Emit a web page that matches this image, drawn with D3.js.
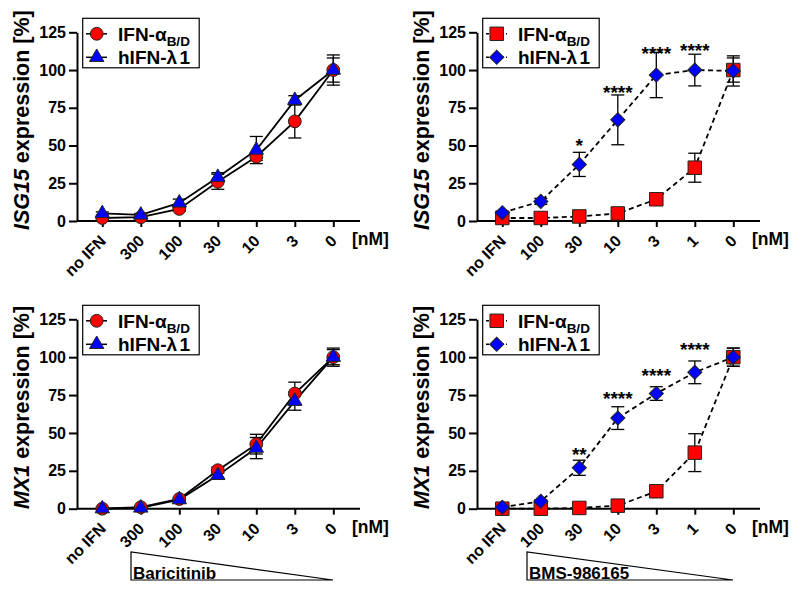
<!DOCTYPE html>
<html><head><meta charset="utf-8">
<script src="https://cdn.jsdelivr.net/npm/d3@7"></script>
<style>
body{margin:0;background:#fff}
svg{display:block}
text{font-family:"Liberation Sans",Arial,Helvetica,sans-serif;font-weight:bold;fill:#000}
</style>
</head><body>
<svg id="chart" width="800" height="589"></svg>
<script>
// ---- Data ----
const catsBaricitinib = ["no IFN", "300", "100", "30", "10", "3", "0"];
const catsBMS = ["no IFN", "100", "30", "10", "3", "1", "0"];
const yTicks = [0, 25, 50, 75, 100, 125];
const seriesNames = ["IFN-α", "hIFN-λ"];

// ISG15, Baricitinib
const isg15BariAlpha = [2, 2.5, 8, 26, 42.6, 66, 100];
const isg15BariAlphaErr = [1, 1, 1.5, 5, 2.5, 11, 10];
const isg15BariLambda = [5, 4, 12, 29, 47, 80, 100];
const isg15BariLambdaErr = [1, 1, 2.5, 3, 9, 3, 8];

// ISG15, BMS-986165
const isg15BmsAlpha = [2, 2, 3, 5, 14.4, 35.3, 100];
const isg15BmsAlphaErr = [1, 1, 1, 1.5, 2, 9.6, 8];
const isg15BmsLambda = [5.5, 13, 37.5, 67, 96.7, 100, 99.4];
const isg15BmsLambdaErr = [1, 2, 8, 16.5, 15, 10.5, 10];
const isg15BmsStars = ["", "", "*", "****", "****", "****", ""];
const isg15BmsStarLevel = [null, null, 54, 89.4, 115.5, 117, null];

// MX1, Baricitinib
const mx1BariAlpha = [0, 1, 6.4, 25.4, 42.6, 76, 100];
const mx1BariAlphaErr = [0.5, 0.5, 1, 2, 6.5, 7.5, 6];
const mx1BariLambda = [0, 0.5, 6, 22, 40, 71, 100];
const mx1BariLambdaErr = [0.5, 0.5, 1, 2, 7, 6, 5];

// MX1, BMS-986165
const mx1BmsAlpha = [0, 0, 0.5, 2, 11.5, 37, 100];
const mx1BmsAlphaErr = [0.5, 0.5, 0.5, 1, 1.5, 12.5, 6];
const mx1BmsLambda = [1, 4.9, 27, 59.8, 76, 90, 100];
const mx1BmsLambdaErr = [0.5, 1, 5, 7.5, 4.5, 7.5, 6];
const mx1BmsStars = ["", "", "**", "****", "****", "****", ""];
const mx1BmsStarLevel = [null, null, 40, 77.2, 92.2, 109.4, null];

// ---- Panels (layout) ----
const panels = [
  {left:77,  top:32.3,  bottom:221,   gene:"ISG15", cats:catsBaricitinib, a:isg15BariAlpha, ae:isg15BariAlphaErr, l:isg15BariLambda, le:isg15BariLambdaErr, dashed:false, inhibitor:null},
  {left:477, top:32.3,  bottom:221,   gene:"ISG15", cats:catsBMS, a:isg15BmsAlpha, ae:isg15BmsAlphaErr, l:isg15BmsLambda, le:isg15BmsLambdaErr, dashed:true, stars:isg15BmsStars, starLevel:isg15BmsStarLevel, inhibitor:null},
  {left:77,  top:319.3, bottom:508.7, gene:"MX1", cats:catsBaricitinib, a:mx1BariAlpha, ae:mx1BariAlphaErr, l:mx1BariLambda, le:mx1BariLambdaErr, dashed:false, inhibitor:"Baricitinib", inhX:54},
  {left:477, top:319.3, bottom:508.7, gene:"MX1", cats:catsBMS, a:mx1BmsAlpha, ae:mx1BmsAlphaErr, l:mx1BmsLambda, le:mx1BmsLambdaErr, dashed:true, stars:mx1BmsStars, starLevel:mx1BmsStarLevel, inhibitor:"BMS-986165", inhX:50}
];

const FONT = '"Liberation Sans",Arial,Helvetica,sans-serif';
const svg = d3.select("#chart");
svg.append("rect").attr("width",800).attr("height",589).attr("fill","#fff");

const RED = "#ff0000", BLUE = "#0000ff";

function symbolPath(kind) {
  if (kind === "circle") return d3.symbol(d3.symbolCircle, Math.PI*6.4*6.4)();
  if (kind === "triangle") return d3.symbol(d3.symbolTriangle, 90)();
  if (kind === "square") return d3.symbol(d3.symbolSquare, 182)();
  if (kind === "diamond") return d3.symbol(d3.symbolSquare, 100)();
}

panels.forEach(p => {
  const g = svg.append("g");
  const x = d3.scalePoint().domain(p.cats).range([p.left + 25.3, p.left + 256.3]);
  const y = d3.scaleLinear().domain([0, 125]).range([p.bottom, p.top]);
  const shapeA = p.dashed ? "square" : "circle";
  const shapeL = p.dashed ? "diamond" : "triangle";

  // y axis
  const ya = g.append("g").attr("transform", `translate(${p.left},0)`)
    .call(d3.axisLeft(y).tickValues(yTicks).tickSize(8).tickSizeOuter(0).tickPadding(3));
  ya.attr("font-size", 16).attr("font-family", FONT).attr("font-weight", "bold");
  ya.select(".domain").attr("stroke-width", 2).attr("stroke", "#000");
  ya.selectAll(".tick line").attr("stroke-width", 2).attr("stroke", "#000");
  ya.selectAll(".tick text").attr("font-size", 16).style("font-size", "16px")
    .attr("fill", "#000");

  // x axis
  const xa = g.append("g").attr("transform", `translate(0,${p.bottom})`)
    .call(d3.axisBottom(x).tickSize(6).tickSizeOuter(0));
  xa.attr("font-size", 16).attr("font-family", FONT).attr("font-weight", "bold");
  xa.select(".domain").remove();
  xa.append("line").attr("x1", p.left).attr("x2", p.left + 283).attr("y1", 0).attr("y2", 0)
    .attr("stroke", "#000").attr("stroke-width", 2);
  xa.selectAll(".tick line").attr("stroke-width", 2).attr("stroke", "#000");
  xa.selectAll(".tick text")
    .attr("x", 0).attr("y", 0).attr("dy", 0)
    .attr("text-anchor", "end")
    .attr("transform", "translate(4,21) rotate(-45)")
    .attr("font-size", 16).style("font-size", "16px").attr("fill", "#000");
  g.append("text").attr("x", p.left + 275).attr("y", p.bottom + 24)
    .style("font-size", "17.5px").text("[nM]");

  // y title
  const yt = g.append("text")
    .attr("transform", `translate(${p.left - 48},${(p.top + p.bottom) / 2 - 6.5}) rotate(-90)`)
    .attr("text-anchor", "middle").style("font-size", "21.5px");
  yt.append("tspan").style("font-style", "italic").text(p.gene);
  yt.append("tspan").text(" expression [%]");

  // lines
  const line = d3.line().x((d, i) => x(p.cats[i])).y(d => y(d));
  [p.a, p.l].forEach(arr => {
    g.append("path").datum(arr).attr("d", line).attr("fill", "none")
      .attr("stroke", "#000").attr("stroke-width", 1.8)
      .attr("stroke-dasharray", p.dashed ? "5,3.5" : null);
  });

  // error bars
  [[p.a, p.ae], [p.l, p.le]].forEach(([vals, errs]) => {
    vals.forEach((v, i) => {
      const cx = x(p.cats[i]);
      const y1 = y(v + errs[i]), y2 = y(v - errs[i]);
      g.append("line").attr("x1", cx).attr("x2", cx).attr("y1", y1).attr("y2", y2)
        .attr("stroke", "#000").attr("stroke-width", 1.3);
      [y1, y2].forEach(yy => g.append("line").attr("x1", cx - 6.5).attr("x2", cx + 6.5)
        .attr("y1", yy).attr("y2", yy).attr("stroke", "#000").attr("stroke-width", 1.3));
    });
  });

  // markers
  [[p.a, shapeA, RED], [p.l, shapeL, BLUE]].forEach(([vals, shape, col]) => {
    g.selectAll(null).data(vals).enter().append("path")
      .attr("d", symbolPath(shape))
      .attr("transform", (d, i) => `translate(${x(p.cats[i])},${y(d)})${shape === "diamond" ? " rotate(45)" : ""}`)
      .attr("fill", col).attr("stroke", "#222").attr("stroke-width", 1);
  });

  // significance stars
  if (p.stars) {
    p.stars.forEach((s, i) => {
      if (!s) return;
      g.append("text").attr("x", x(p.cats[i])).attr("y", y(p.starLevel[i]))
        .attr("dy", "0.68em").attr("text-anchor", "middle")
        .style("font-size", "19px").text(s);
    });
  }

  // legend
  const lg = g.append("g").attr("transform", `translate(${p.left},${p.top})`);
  lg.append("rect").attr("x", 5.7).attr("y", -14).attr("width", 116.5).attr("height", 49.5)
    .attr("fill", "#fff").attr("stroke", "#000").attr("stroke-width", 1.2);
  const rows = [
    {shape: shapeA, col: RED, dy: 1.5, name: seriesNames[0], sub: "B/D"},
    {shape: shapeL, col: BLUE, dy: 25, name: seriesNames[1], tail: "1"}
  ];
  rows.forEach(r => {
    lg.append("line").attr("x1", 9).attr("x2", 30).attr("y1", r.dy).attr("y2", r.dy)
      .attr("stroke", "#000").attr("stroke-width", 1.5)
      .attr("stroke-dasharray", p.dashed ? "3,2" : null);
    lg.append("path").attr("d", symbolPath(r.shape))
      .attr("transform", `translate(19.7,${r.dy})${r.shape === "diamond" ? " rotate(45)" : ""}`)
      .attr("fill", r.col).attr("stroke", "#222").attr("stroke-width", 1);
    const t = lg.append("text").attr("x", 41).attr("y", r.dy + 6.8).style("font-size", "19px");
    t.append("tspan").text(r.name);
    if (r.sub) t.append("tspan").attr("dy", 5).style("font-size", "13.5px").text(r.sub);
    if (r.tail) t.append("tspan").attr("dx", 2.5).text(r.tail);
  });

  // inhibitor wedge
  if (p.inhibitor) {
    const x0 = p.left + p.inhX, x1 = p.left + 256;
    g.append("path").attr("d", `M${x0},552 L${x0},580 L${x1},580 Z`)
      .attr("fill", "#fff").attr("stroke", "#000").attr("stroke-width", 1.2);
    g.append("text").attr("x", x0 + 2).attr("y", 578.5).style("font-size", "17px").text(p.inhibitor);
  }
});
</script>
</body></html>
